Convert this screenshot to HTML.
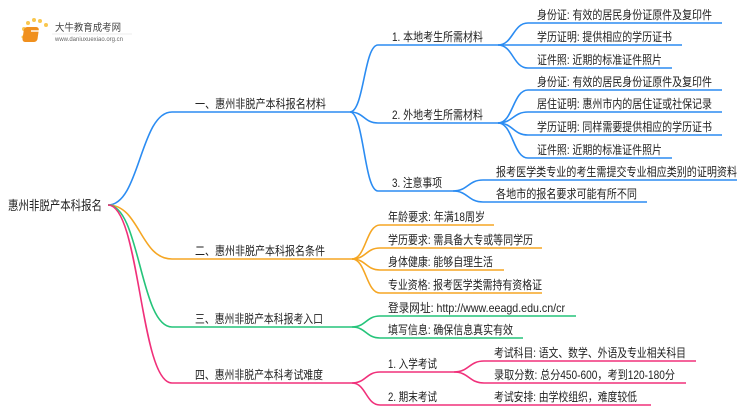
<!DOCTYPE html>
<html><head><meta charset="utf-8"><style>
body{margin:0;background:#fff;width:750px;height:410px;overflow:hidden}
text{font-family:"Liberation Sans","Noto Sans CJK SC",sans-serif;font-size:12px;fill:#222}
</style></head><body>
<svg width="750" height="410" viewBox="0 0 750 410" xmlns="http://www.w3.org/2000/svg">
<g>
<circle cx="24" cy="29" r="2" fill="#f9c74f"/><circle cx="28" cy="23" r="2" fill="#f9c74f"/><circle cx="34" cy="20" r="2" fill="#f9c74f"/><circle cx="40" cy="21" r="2" fill="#f9c74f"/><circle cx="46" cy="25" r="2" fill="#f9c74f"/><circle cx="23" cy="37" r="1.5" fill="#f9c74f"/>
<rect x="28" y="27" width="15" height="15" rx="3" fill="#f0901e" transform="skewX(-8)"/>
<rect x="31" y="30" width="8" height="2" fill="#fff" opacity=".7"/>
<text x="55" y="31" style="font-size:10px;fill:#444" textLength="66" lengthAdjust="spacingAndGlyphs">大牛教育成考网</text>
<text x="55" y="41" style="font-size:6px;fill:#666" textLength="68" lengthAdjust="spacingAndGlyphs">www.daniuxuexiao.org.cn</text>
<line x1="52" y1="34" x2="132" y2="34" stroke="#ddd" stroke-width=".6"/>
</g>
<g fill="none" stroke-width="1.6">
<g stroke="#2b8cf2">
<path d="M108,205 C140,205 140,112 172,112 L350,112"/>
<path d="M350,112 C364,112 364,45 378,45 L498,45"/>
<path d="M350,112 C364,112 364,123 378,123 L498,123"/>
<path d="M350,112 C364,112 364,191 378,191 L453,191"/>
<path d="M498,45 C513,45 513,23 528,23 L722,23"/>
<path d="M498,45 L682,45"/>
<path d="M498,45 C513,45 513,68 528,68 L672,68"/>
<path d="M498,123 C513,123 513,90 528,90 L722,90"/>
<path d="M498,123 C513,123 513,112 528,112 L722,112"/>
<path d="M498,123 C513,123 513,135 528,135 L722,135"/>
<path d="M498,123 C513,123 513,158 528,158 L672,158"/>
<path d="M453,191 C468,191 468,180 483,180 L737,180"/>
<path d="M453,191 C468,191 468,202 483,202 L647,202"/>
</g>
<g stroke="#f5a623">
<path d="M108,205 C140,205 140,259 172,259 L352,259"/>
<path d="M352,259 C366,259 366,225 380,225 L494,225"/>
<path d="M352,259 C366,259 366,248 380,248 L542,248"/>
<path d="M352,259 C366,259 366,270 380,270 L504,270"/>
<path d="M352,259 C366,259 366,293 380,293 L542,293"/>
</g>
<g stroke="#25c47a">
<path d="M108,205 C140,205 140,327 172,327 L352,327"/>
<path d="M352,327 C366,327 366,316 380,316 L576,316"/>
<path d="M352,327 C366,327 366,338 380,338 L523,338"/>
</g>
<g stroke="#f0307a">
<path d="M108,205 C140,205 140,383 172,383 L352,383"/>
<path d="M352,383 C366,383 366,372 380,372 L454,372"/>
<path d="M352,383 C366,383 366,405 380,405 L454,405"/>
<path d="M454,372 C469,372 469,361 484,361 L696,361"/>
<path d="M454,372 C469,372 469,383 484,383 L686,383"/>
<path d="M454,405 L651,405"/>
</g>
</g>
<text x="8" y="210" style="font-size:13px" textLength="94" lengthAdjust="spacingAndGlyphs">惠州非脱产本科报名</text>
<text x="195" y="108" textLength="131" lengthAdjust="spacingAndGlyphs">一、惠州非脱产本科报名材料</text>
<text x="392" y="41" textLength="91" lengthAdjust="spacingAndGlyphs">1. 本地考生所需材料</text>
<text x="392" y="119" textLength="91" lengthAdjust="spacingAndGlyphs">2. 外地考生所需材料</text>
<text x="392" y="187" textLength="50" lengthAdjust="spacingAndGlyphs">3. 注意事项</text>
<text x="537" y="19" textLength="175" lengthAdjust="spacingAndGlyphs">身份证: 有效的居民身份证原件及复印件</text>
<text x="537" y="41" textLength="135" lengthAdjust="spacingAndGlyphs">学历证明: 提供相应的学历证书</text>
<text x="537" y="64" textLength="125" lengthAdjust="spacingAndGlyphs">证件照: 近期的标准证件照片</text>
<text x="537" y="86" textLength="175" lengthAdjust="spacingAndGlyphs">身份证: 有效的居民身份证原件及复印件</text>
<text x="537" y="108" textLength="175" lengthAdjust="spacingAndGlyphs">居住证明: 惠州市内的居住证或社保记录</text>
<text x="537" y="131" textLength="175" lengthAdjust="spacingAndGlyphs">学历证明: 同样需要提供相应的学历证书</text>
<text x="537" y="154" textLength="125" lengthAdjust="spacingAndGlyphs">证件照: 近期的标准证件照片</text>
<text x="496" y="176" textLength="241" lengthAdjust="spacingAndGlyphs">报考医学类专业的考生需提交专业相应类别的证明资料</text>
<text x="496" y="198" textLength="141" lengthAdjust="spacingAndGlyphs">各地市的报名要求可能有所不同</text>
<text x="195" y="255" textLength="130" lengthAdjust="spacingAndGlyphs">二、惠州非脱产本科报名条件</text>
<text x="388" y="221" textLength="97" lengthAdjust="spacingAndGlyphs">年龄要求: 年满18周岁</text>
<text x="388" y="244" textLength="145" lengthAdjust="spacingAndGlyphs">学历要求: 需具备大专或等同学历</text>
<text x="388" y="266" textLength="105" lengthAdjust="spacingAndGlyphs">身体健康: 能够自理生活</text>
<text x="388" y="289" textLength="154" lengthAdjust="spacingAndGlyphs">专业资格: 报考医学类需持有资格证</text>
<text x="195" y="323" textLength="128" lengthAdjust="spacingAndGlyphs">三、惠州非脱产本科报考入口</text>
<text x="388" y="312" textLength="177" lengthAdjust="spacingAndGlyphs">登录网址: http://www.eeagd.edu.cn/cr</text>
<text x="388" y="334" textLength="125" lengthAdjust="spacingAndGlyphs">填写信息: 确保信息真实有效</text>
<text x="195" y="379" textLength="128" lengthAdjust="spacingAndGlyphs">四、惠州非脱产本科考试难度</text>
<text x="388" y="368" textLength="49" lengthAdjust="spacingAndGlyphs">1. 入学考试</text>
<text x="388" y="401" textLength="49" lengthAdjust="spacingAndGlyphs">2. 期末考试</text>
<text x="494" y="357" textLength="192" lengthAdjust="spacingAndGlyphs">考试科目: 语文、数学、外语及专业相关科目</text>
<text x="494" y="379" textLength="181" lengthAdjust="spacingAndGlyphs">录取分数: 总分450-600，考到120-180分</text>
<text x="494" y="401" textLength="143" lengthAdjust="spacingAndGlyphs">考试安排: 由学校组织，难度较低</text>
</svg>
</body></html>
